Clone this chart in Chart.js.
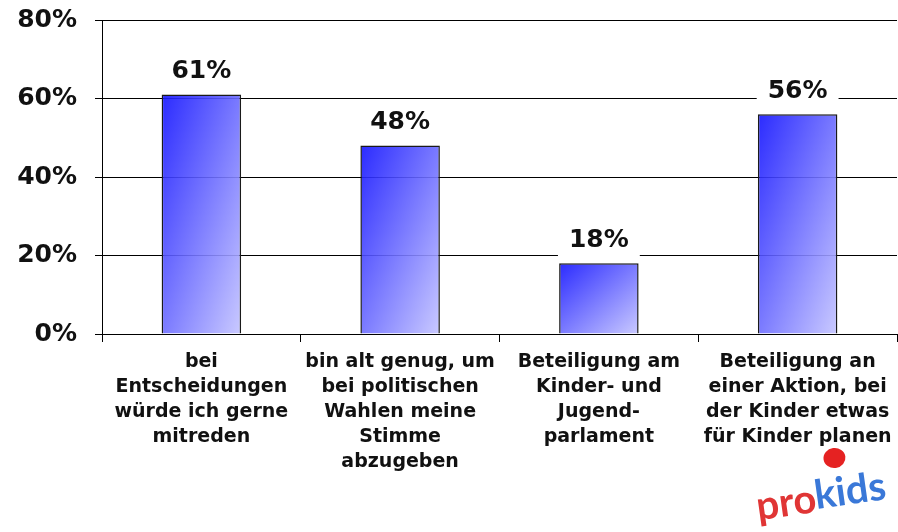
<!DOCTYPE html>
<html>
<head>
<meta charset="utf-8">
<script src="https://cdn.jsdelivr.net/npm/chart.js@4"></script>
<style>
  html, body { margin: 0; padding: 0; background: #fff; }
  #wrap { width: 898px; height: 532px; }
</style>
</head>
<body>
<div id="wrap"><canvas id="chart"></canvas></div>
<script>
const categories = [
  ["bei", "Entscheidungen", "würde ich gerne", "mitreden"],
  ["bin alt genug, um", "bei politischen", "Wahlen meine", "Stimme", "abzugeben"],
  ["Beteiligung am", "Kinder- und", "Jugend-", "parlament"],
  ["Beteiligung an", "einer Aktion, bei", "der Kinder etwas", "für Kinder planen"]
];
const values = [61, 48, 18, 56];
const yTicks = [0, 20, 40, 60, 80];

const FONT = "'DejaVu Sans', Verdana, sans-serif";

// diagonal fill mapped onto the bar box, like the office chart
function barGradient(ctx) {
  const chart = ctx.chart;
  if (!chart.chartArea) return "#5555ff";
  const x = chart.scales.x, y = chart.scales.y;
  const cx = x.getPixelForValue(ctx.dataIndex);
  const w = x.width / categories.length * 0.4;
  const top = y.getPixelForValue(values[ctx.dataIndex]);
  const h = y.getPixelForValue(0) - top;
  const s = 2 / (1 / (w * w) + 1 / (h * h));
  const x0 = cx - w / 2;
  const g = chart.ctx.createLinearGradient(x0, top, x0 + s / w, top + s / h);
  g.addColorStop(0, "rgba(20,20,255,0.9)");
  g.addColorStop(1, "rgba(196,196,255,0.9)");
  return g;
}

const valueLabels = {
  id: "valueLabels",
  afterDatasetsDraw(chart) {
    const c = chart.ctx;
    const meta = chart.getDatasetMeta(0);
    c.save();
    c.font = "bold 25px " + FONT;
    c.textAlign = "center";
    c.textBaseline = "middle";
    meta.data.forEach((bar, i) => {
      const txt = values[i] + "%";
      const w = c.measureText(txt).width + 22;
      const cy = bar.y - 23;
      c.fillStyle = "#fff";
      c.fillRect(bar.x - w / 2, cy - 17, w, 34);
      c.fillStyle = "#111";
      c.fillText(txt, bar.x, cy);
    });
    c.restore();
  }
};

const logo = {
  id: "logo",
  afterDraw(chart) {
    const c = chart.ctx;
    c.save();
    c.translate(816, 499);
    c.rotate(-0.14);
    c.fillStyle = "#e52222";
    c.beginPath();
    c.ellipse(24, -38, 11, 10, 0, 0, Math.PI * 2);
    c.fill();
    c.font = "bold 40px Lato, 'Noto Sans', sans-serif";
    c.textBaseline = "middle";
    c.textAlign = "right";
    c.fillStyle = "#e03535";
    c.fillText("pro", 0, 0);
    c.textAlign = "left";
    c.fillStyle = "#3a78d8";
    c.fillText("kids", -1, -3);
    c.restore();
  }
};

new Chart(document.getElementById("chart"), {
  type: "bar",
  data: {
    labels: categories,
    datasets: [{
      data: values,
      backgroundColor: barGradient,
      borderColor: "#1a1a1a",
      borderWidth: 1.5,
      barPercentage: 0.4,
      categoryPercentage: 1
    }]
  },
  options: {
    responsive: true,
    maintainAspectRatio: false,
    animation: false,
    layout: { padding: { top: 20, right: 1, left: 0, bottom: 0 } },
    plugins: { legend: { display: false }, tooltip: { enabled: false } },
    scales: {
      x: {
        grid: { drawOnChartArea: false, color: "#000", tickLength: 8, offset: true },
        border: { color: "#000", width: 1 },
        ticks: {
          color: "#111",
          padding: 8,
          maxRotation: 0,
          autoSkip: false,
          font: { family: FONT, size: 19, weight: "bold", lineHeight: 1.31 }
        },
        afterFit(scale) {
          scale.height = 198;
          scale.paddingLeft = 0;
          scale.paddingRight = 0;
        }
      },
      y: {
        min: 0,
        max: 80,
        afterBuildTicks(scale) { scale.ticks = yTicks.map(v => ({ value: v })); },
        grid: { color: "#000", lineWidth: 1, tickLength: 7 },
        border: { color: "#000", width: 1 },
        ticks: {
          color: "#111",
          padding: 18,
          font: { family: FONT, size: 25, weight: "bold", lineHeight: 1 },
          callback: v => v + "%"
        },
        afterFit(scale) {
          scale.width = 102;
          scale.paddingTop = 0;
          scale.paddingBottom = 0;
        }
      }
    }
  },
  plugins: [valueLabels, logo]
});
</script>
</body>
</html>
